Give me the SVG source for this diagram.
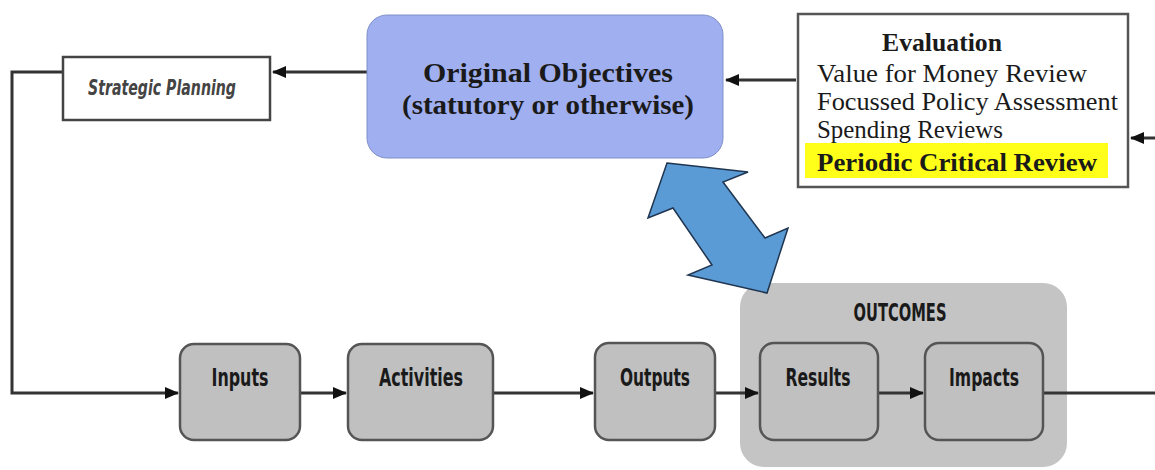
<svg xmlns="http://www.w3.org/2000/svg" width="1155" height="470" viewBox="0 0 1155 470">
<style>
.line{fill:none;stroke:#333;stroke-width:3}
.box{fill:#c0c0c0;stroke:#555;stroke-width:2.5}
.lbl{font-family:"DejaVu Sans",sans-serif;font-weight:bold;font-size:24px;fill:#1a1a1a;text-anchor:middle}
.ser{font-family:"Liberation Serif","Times New Roman",serif;fill:#1a1a1a}
</style>
<defs>
<marker id="ah" markerWidth="14" markerHeight="12" refX="13" refY="6" orient="auto" markerUnits="userSpaceOnUse">
<path d="M0,0 L14,6 L0,12 Z" fill="#111"/>
</marker>
</defs>
<rect width="1155" height="470" fill="#fff"/>

<g id="outcomes">
<rect x="740" y="283" width="327" height="184" rx="24" fill="#c4c4c4"/>
<text class="lbl" x="900" y="321" font-size="22" textLength="93" lengthAdjust="spacingAndGlyphs">OUTCOMES</text>
</g>

<g id="double-arrow">
<polygon points="667,163 748,172 723,182 765,238 788,228 767,293 688,275 712,265 673,208 648,218" fill="#5b9bd5" stroke="#1f3550" stroke-width="1.5" stroke-linejoin="miter"/>
</g>

<g id="connectors">
<path class="line" d="M63,72 H12 V393 H178" marker-end="url(#ah)"/>
<path class="line" d="M367,72 H273" marker-end="url(#ah)"/>
<path class="line" d="M796,80 H726" marker-end="url(#ah)"/>
<path class="line" d="M1155,138 H1131" marker-end="url(#ah)"/>
<path class="line" d="M300,393 H346" marker-end="url(#ah)"/>
<path class="line" d="M493,393 H593" marker-end="url(#ah)"/>
<path class="line" d="M715,393 H758" marker-end="url(#ah)"/>
<path class="line" d="M878,393 H923" marker-end="url(#ah)"/>
<path class="line" d="M1043,393 H1155"/>
</g>

<g id="strategic-planning">
<rect x="63" y="57" width="207" height="63" fill="#fff" stroke="#444" stroke-width="2.5"/>
<text x="162" y="95" font-family="DejaVu Sans,sans-serif" font-weight="bold" font-style="italic" font-size="21" fill="#444" text-anchor="middle" textLength="148" lengthAdjust="spacingAndGlyphs">Strategic Planning</text>
</g>

<g id="original-objectives">
<rect x="367" y="15" width="356" height="143" rx="20" fill="#a0aff0" stroke="#7f8fc8" stroke-width="1"/>
<text class="ser" x="548" y="82" font-size="27" font-weight="bold" text-anchor="middle" textLength="250" lengthAdjust="spacingAndGlyphs">Original Objectives</text>
<text class="ser" x="548" y="114" font-size="27" font-weight="bold" text-anchor="middle" textLength="292" lengthAdjust="spacingAndGlyphs">(statutory or otherwise)</text>
</g>

<g id="evaluation">
<rect x="798" y="14" width="330" height="173" fill="#fff" stroke="#555" stroke-width="2.5"/>
<rect x="805" y="143" width="303" height="35" fill="#ffff1a"/>
<text class="ser" x="942" y="51" font-size="25" font-weight="bold" text-anchor="middle" textLength="120" lengthAdjust="spacingAndGlyphs">Evaluation</text>
<text class="ser" x="817" y="82" font-size="25" textLength="270" lengthAdjust="spacingAndGlyphs">Value for Money Review</text>
<text class="ser" x="817" y="110" font-size="25" textLength="301" lengthAdjust="spacingAndGlyphs">Focussed Policy Assessment</text>
<text class="ser" x="817" y="138" font-size="25" textLength="186" lengthAdjust="spacingAndGlyphs">Spending Reviews</text>
<text class="ser" x="817" y="171" font-size="25" font-weight="bold" textLength="280" lengthAdjust="spacingAndGlyphs">Periodic Critical Review</text>
</g>

<g id="inputs">
<rect class="box" x="180" y="344" width="120" height="96" rx="14"/>
<text class="lbl" x="240" y="386" textLength="57" lengthAdjust="spacingAndGlyphs">Inputs</text>
</g>
<g id="activities">
<rect class="box" x="348" y="344" width="145" height="96" rx="14"/>
<text class="lbl" x="421" y="386" textLength="84" lengthAdjust="spacingAndGlyphs">Activities</text>
</g>
<g id="outputs">
<rect class="box" x="595" y="343" width="120" height="97" rx="14"/>
<text class="lbl" x="655" y="386" textLength="70" lengthAdjust="spacingAndGlyphs">Outputs</text>
</g>
<g id="results">
<rect class="box" x="760" y="343" width="118" height="97" rx="14"/>
<text class="lbl" x="818" y="386" textLength="65" lengthAdjust="spacingAndGlyphs">Results</text>
</g>
<g id="impacts">
<rect class="box" x="925" y="343" width="118" height="97" rx="14"/>
<text class="lbl" x="984" y="386" textLength="70" lengthAdjust="spacingAndGlyphs">Impacts</text>
</g>
</svg>
